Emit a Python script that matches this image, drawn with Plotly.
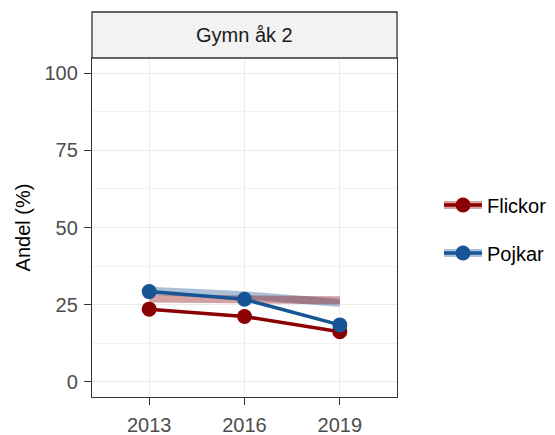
import plotly.graph_objects as go

years = [2013, 2016, 2019]
flickor = [23.5, 21.1, 16.2]
pojkar = [29.2, 26.7, 18.4]
flickor_ref = [27.0, 26.5, 26.4]
pojkar_ref = [29.5, 28.0, 25.5]
y_ticks = [0, 25, 50, 75, 100]
panel_title = "Gymn åk 2"

RED = "#8B0000"
BLUE = "#175595"
FONT = "Liberation Sans, Arial, sans-serif"

fig = go.Figure()

# faded reference bands (drawn first)
fig.add_trace(go.Scatter(x=years, y=pojkar_ref, mode="lines", name=" ",
                         line=dict(color=BLUE, width=8), opacity=0.36,
                         legend="legend2", showlegend=True, hoverinfo="skip"))
fig.add_trace(go.Scatter(x=years, y=flickor_ref, mode="lines", name=" ",
                         line=dict(color=RED, width=8), opacity=0.36,
                         legend="legend", showlegend=True, hoverinfo="skip"))

fig.add_trace(go.Scatter(x=years, y=flickor, mode="lines+markers", name="Flickor",
                         line=dict(color=RED, width=3.5),
                         marker=dict(color=RED, size=15), legend="legend3"))
fig.add_trace(go.Scatter(x=years, y=pojkar, mode="lines+markers", name="Pojkar",
                         line=dict(color=BLUE, width=3.5),
                         marker=dict(color=BLUE, size=15), legend="legend4"))

leg_common = dict(xref="container", yref="container", xanchor="left", yanchor="middle",
                  bgcolor="rgba(0,0,0,0)", borderwidth=0, itemwidth=38,
                  font=dict(family=FONT, size=20, color="#000000"))
lx = 439 / 555
y1 = 1 - 205 / 435
y2 = 1 - 253 / 435

fig.update_layout(
    width=555, height=435,
    margin=dict(l=92, r=158, t=58, b=38, autoexpand=False),
    paper_bgcolor="white", plot_bgcolor="white",
    font=dict(family=FONT, size=20, color="#4d4d4d"),
    legend=dict(x=lx, y=y1, **leg_common),
    legend2=dict(x=lx, y=y2, **leg_common),
    legend3=dict(x=lx, y=y1, **leg_common),
    legend4=dict(x=lx, y=y2, **leg_common),
    xaxis=dict(range=[2011.2, 2020.8], tickvals=years, ticktext=[str(y) for y in years],
               showgrid=True, gridcolor="#ebebeb", gridwidth=1,
               showline=True, mirror=True, linecolor="#333333", linewidth=1.3,
               ticks="outside", ticklen=7, tickcolor="#333333", tickwidth=1.2,
               tickfont=dict(family=FONT, size=20, color="#4d4d4d"),
               ticklabelstandoff=3, zeroline=False, fixedrange=True),
    yaxis=dict(range=[-5, 105], tickvals=y_ticks,
               showgrid=True, gridcolor="#ebebeb", gridwidth=1,
               minor=dict(tickvals=[12.5, 37.5, 62.5, 87.5], showgrid=True,
                          gridcolor="#f2f2f2", gridwidth=1, ticks=""),
               showline=True, mirror=True, linecolor="#333333", linewidth=1.3,
               ticks="outside", ticklen=7, tickcolor="#333333", tickwidth=1.2,
               tickfont=dict(family=FONT, size=20, color="#4d4d4d"),
               ticklabelstandoff=2, zeroline=False, fixedrange=True,
               title=dict(text="Andel (%)", standoff=8,
                          font=dict(family=FONT, size=20, color="#000000"))),
)

strip_h = 46 / 339
fig.add_shape(type="rect", xref="paper", yref="paper", x0=0, x1=1, y0=1, y1=1 + strip_h,
              fillcolor="#f2f2f2", line=dict(color="#333333", width=1.3), layer="above")
fig.add_annotation(xref="paper", yref="paper", x=0.5, y=1 + strip_h / 2,
                   text=panel_title, showarrow=False, xanchor="center", yanchor="middle",
                   font=dict(family=FONT, size=20, color="#1a1a1a"))

fig.write_html("out.html", config={"displayModeBar": False},
               post_script="document.body.style.margin='0';document.body.style.overflow='hidden';")
